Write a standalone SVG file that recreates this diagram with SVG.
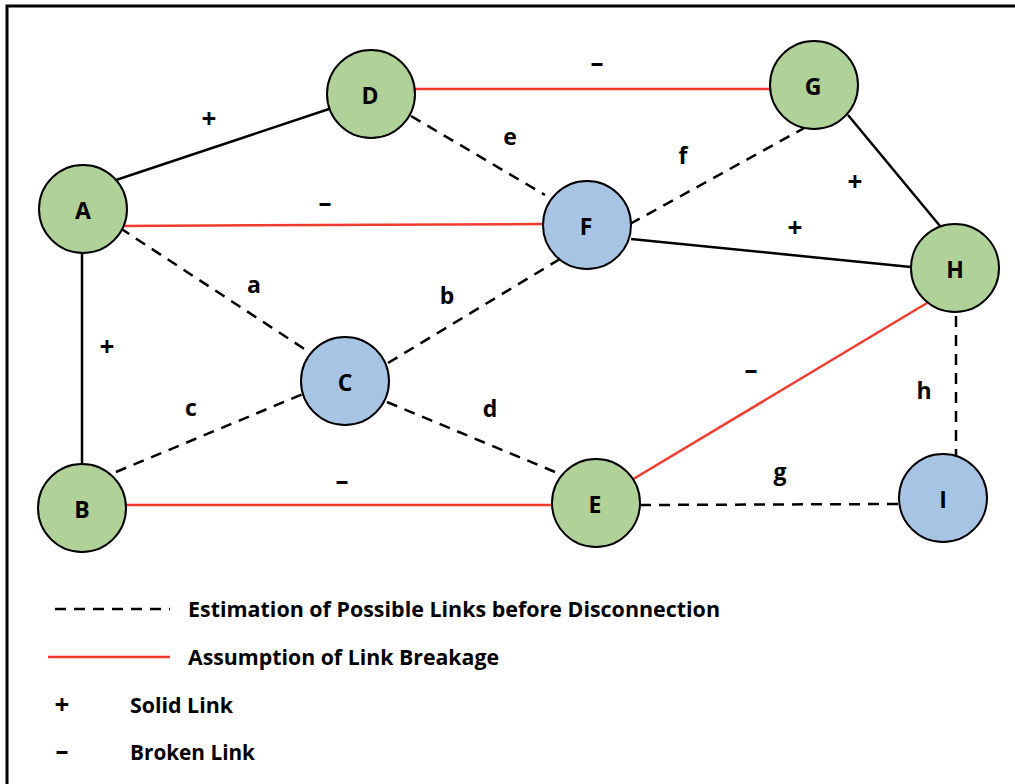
<svg xmlns="http://www.w3.org/2000/svg" width="1015" height="784" viewBox="0 0 1015 784">
<style>
.n{stroke:#000;stroke-width:2}
.g{fill:#B0D197}
.b{fill:#A8C4E4}
.t{font-family:"Open Sans",Lato,sans-serif;font-weight:bold;font-size:23px;fill:#000;text-anchor:middle;dominant-baseline:central}
.p{font-family:"Open Sans",Lato,sans-serif;font-weight:bold;font-size:26px;fill:#000;text-anchor:middle;dominant-baseline:central}
.s{stroke:#000;stroke-width:2.5;fill:none}
.d{stroke:#000;stroke-width:2.5;stroke-dasharray:11 8;fill:none}
.r{stroke:#F03A2E;stroke-width:2.5;fill:none}
.l{font-family:"Open Sans",Lato,sans-serif;font-weight:bold;font-size:22px;fill:#000}
</style>
<rect width="1015" height="784" fill="#fff"/>
<path d="M7,784 V6 H1015" fill="none" stroke="#000" stroke-width="3"/>
<g id="connectors">
<line class="s" x1="116" y1="180" x2="329" y2="109"/>
<line class="r" x1="120" y1="226" x2="543" y2="224"/>
<line class="s" x1="82" y1="253" x2="82" y2="464"/>
<line class="d" x1="120" y1="228" x2="309" y2="352"/>
<line class="r" x1="415" y1="89" x2="770" y2="89"/>
<line class="d" x1="411" y1="116" x2="545" y2="195"/>
<line class="d" x1="630" y1="224" x2="806" y2="127"/>
<line class="s" x1="848" y1="115" x2="940" y2="226"/>
<line class="s" x1="631" y1="239" x2="911" y2="267"/>
<line class="d" x1="388" y1="363" x2="560" y2="259"/>
<line class="d" x1="116" y1="472" x2="303" y2="394"/>
<line class="d" x1="387" y1="402" x2="555" y2="472"/>
<line class="r" x1="126" y1="505" x2="552" y2="505"/>
<line class="r" x1="630" y1="481" x2="927" y2="303"/>
<line class="d" x1="640" y1="505" x2="899" y2="504"/>
<line class="d" x1="956" y1="316" x2="956" y2="457"/>
</g>
<g id="A"><circle class="n g" cx="83" cy="209" r="44"/><text class="t" x="83" y="210">A</text></g>
<g id="B"><circle class="n g" cx="82" cy="508" r="44"/><text class="t" x="82" y="509">B</text></g>
<g id="C"><circle class="n b" cx="345" cy="381" r="44"/><text class="t" x="345" y="382">C</text></g>
<g id="D"><circle class="n g" cx="371" cy="94" r="44"/><text class="t" x="370" y="95">D</text></g>
<g id="E"><circle class="n g" cx="596" cy="503" r="44"/><text class="t" x="595" y="504">E</text></g>
<g id="F"><circle class="n b" cx="587" cy="225" r="44"/><text class="t" x="586" y="226">F</text></g>
<g id="G"><circle class="n g" cx="814" cy="85" r="44"/><text class="t" x="813" y="86">G</text></g>
<g id="H"><circle class="n g" cx="955" cy="268" r="44"/><text class="t" x="955" y="269">H</text></g>
<g id="I"><circle class="n b" cx="943" cy="498" r="44"/><text class="t" x="943" y="499">I</text></g>
<g id="labels">
<text class="p" x="209" y="118">+</text>
<text class="p" x="325" y="202">–</text>
<text class="t" x="510" y="136">e</text>
<text class="t" x="683" y="155">f</text>
<text class="p" x="855" y="181">+</text>
<text class="p" x="795" y="227">+</text>
<text class="p" x="597" y="62">–</text>
<text class="t" x="254" y="284">a</text>
<text class="t" x="447" y="295">b</text>
<text class="p" x="107" y="346">+</text>
<text class="t" x="191" y="407">c</text>
<text class="t" x="490" y="408">d</text>
<text class="p" x="751" y="369">–</text>
<text class="t" x="924" y="390">h</text>
<text class="t" x="780" y="471">g</text>
<text class="p" x="342" y="480">–</text>
</g>
<g id="legend">
<line class="d" x1="55" y1="609" x2="170" y2="609"/>
<text class="l" x="188" y="617" textLength="532" lengthAdjust="spacingAndGlyphs">Estimation of Possible Links before Disconnection</text>
<line class="r" x1="48" y1="657" x2="170" y2="657"/>
<text class="l" x="188" y="665" textLength="311" lengthAdjust="spacingAndGlyphs">Assumption of Link Breakage</text>
<text class="p" x="62" y="704">+</text>
<text class="l" x="130" y="713" textLength="103" lengthAdjust="spacingAndGlyphs">Solid Link</text>
<text class="p" x="62" y="750">–</text>
<text class="l" x="130" y="760" textLength="125" lengthAdjust="spacingAndGlyphs">Broken Link</text>
</g>
</svg>
